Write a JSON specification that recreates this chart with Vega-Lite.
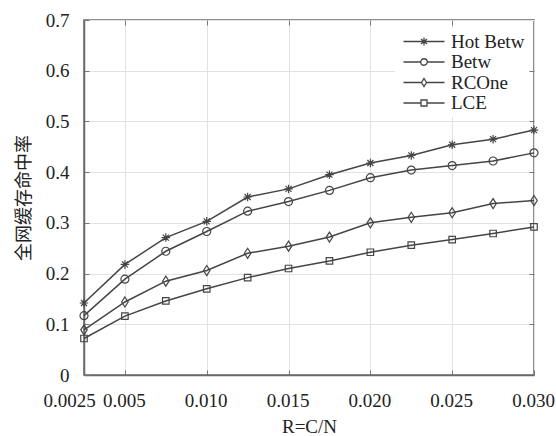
{
  "$schema": "https://vega.github.io/schema/vega-lite/v6.json",
  "autosize": "none",
  "width": 450,
  "height": 355,
  "padding": {"left": 84, "top": 20, "right": 22, "bottom": 61},
  "background": "white",
  "config": {
    "font": "Times New Roman",
    "view": {"stroke": "#6a6a6a", "strokeWidth": 1.5},
    "axis": {
      "labelFont": "Times New Roman",
      "titleFont": "Times New Roman",
      "labelFontSize": 19,
      "labelColor": "#222",
      "titleFontSize": 19,
      "titleFontWeight": "normal",
      "titleColor": "#222",
      "domainColor": "#6a6a6a",
      "domainWidth": 1.5,
      "tickColor": "#777",
      "tickSize": -5,
      "tickWidth": 1,
      "gridColor": "#e2e2e2",
      "gridWidth": 1
    },
    "legend": {
      "labelFont": "Times New Roman",
      "labelFontSize": 19,
      "labelColor": "#222"
    }
  },
  "data": {
    "values": [
      {"r": 0.0025, "s": "Hot Betw", "v": 0.142},
      {"r": 0.005, "s": "Hot Betw", "v": 0.218},
      {"r": 0.0075, "s": "Hot Betw", "v": 0.271},
      {"r": 0.01, "s": "Hot Betw", "v": 0.303},
      {"r": 0.0125, "s": "Hot Betw", "v": 0.351},
      {"r": 0.015, "s": "Hot Betw", "v": 0.367},
      {"r": 0.0175, "s": "Hot Betw", "v": 0.395},
      {"r": 0.02, "s": "Hot Betw", "v": 0.418},
      {"r": 0.0225, "s": "Hot Betw", "v": 0.433},
      {"r": 0.025, "s": "Hot Betw", "v": 0.454},
      {"r": 0.0275, "s": "Hot Betw", "v": 0.465},
      {"r": 0.03, "s": "Hot Betw", "v": 0.483},
      {"r": 0.0025, "s": "Betw", "v": 0.117},
      {"r": 0.005, "s": "Betw", "v": 0.189},
      {"r": 0.0075, "s": "Betw", "v": 0.244},
      {"r": 0.01, "s": "Betw", "v": 0.283},
      {"r": 0.0125, "s": "Betw", "v": 0.323},
      {"r": 0.015, "s": "Betw", "v": 0.342},
      {"r": 0.0175, "s": "Betw", "v": 0.364},
      {"r": 0.02, "s": "Betw", "v": 0.389},
      {"r": 0.0225, "s": "Betw", "v": 0.404},
      {"r": 0.025, "s": "Betw", "v": 0.413},
      {"r": 0.0275, "s": "Betw", "v": 0.422},
      {"r": 0.03, "s": "Betw", "v": 0.438},
      {"r": 0.0025, "s": "RCOne", "v": 0.089},
      {"r": 0.005, "s": "RCOne", "v": 0.144},
      {"r": 0.0075, "s": "RCOne", "v": 0.185},
      {"r": 0.01, "s": "RCOne", "v": 0.206},
      {"r": 0.0125, "s": "RCOne", "v": 0.24},
      {"r": 0.015, "s": "RCOne", "v": 0.254},
      {"r": 0.0175, "s": "RCOne", "v": 0.272},
      {"r": 0.02, "s": "RCOne", "v": 0.3},
      {"r": 0.0225, "s": "RCOne", "v": 0.311},
      {"r": 0.025, "s": "RCOne", "v": 0.32},
      {"r": 0.0275, "s": "RCOne", "v": 0.338},
      {"r": 0.03, "s": "RCOne", "v": 0.344},
      {"r": 0.0025, "s": "LCE", "v": 0.072},
      {"r": 0.005, "s": "LCE", "v": 0.116},
      {"r": 0.0075, "s": "LCE", "v": 0.146},
      {"r": 0.01, "s": "LCE", "v": 0.17},
      {"r": 0.0125, "s": "LCE", "v": 0.192},
      {"r": 0.015, "s": "LCE", "v": 0.21},
      {"r": 0.0175, "s": "LCE", "v": 0.225},
      {"r": 0.02, "s": "LCE", "v": 0.242},
      {"r": 0.0225, "s": "LCE", "v": 0.256},
      {"r": 0.025, "s": "LCE", "v": 0.267},
      {"r": 0.0275, "s": "LCE", "v": 0.279},
      {"r": 0.03, "s": "LCE", "v": 0.292}
    ]
  },
  "resolve": {"axis": {"x": "independent", "y": "independent"}, "scale": {"shape": "independent"}},
  "layer": [
    {
      "mark": {"type": "line", "color": "#454545", "strokeWidth": 1.5},
      "encoding": {
        "x": {
          "field": "r", "type": "quantitative",
          "scale": {"domain": [0.0025, 0.03], "nice": false, "zero": false},
          "axis": {
            "orient": "bottom",
            "title": "R=C/N",
            "labelFont": "Times New Roman",
            "titleFont": "Times New Roman",
            "values": [0.0025, 0.005, 0.01, 0.015, 0.02, 0.025, 0.03],
            "labelExpr": "datum.value < 0.003 ? '0.0025' : format(datum.value, '.3f')",
            "labelPadding": 21,
            "labelFlush": false,
            "labelOverlap": false,
            "labelOffset": {"condition": {"test": "datum.value < 0.003", "value": -15}, "value": -1},
            "titlePadding": 7
          }
        },
        "y": {
          "field": "v", "type": "quantitative",
          "scale": {"domain": [0, 0.7], "nice": false},
          "axis": {
            "orient": "left",
            "title": "全网缓存命中率",
            "labelFont": "Times New Roman",
            "titleFont": "Noto Sans CJK SC",
            "titleFontSize": 18,
            "values": [0, 0.1, 0.2, 0.3, 0.4, 0.5, 0.6, 0.7],
            "labelExpr": "datum.value === 0 ? '0' : format(datum.value, '.1f')",
            "labelPadding": 20,
            "labelFlush": false,
            "labelOverlap": false,
            "titlePadding": 12
          }
        },
        "detail": {"field": "s"}
      }
    },
    {
      "mark": {"type": "point", "filled": false, "color": "#454545", "strokeWidth": 1.2, "opacity": 1, "size": 100},
      "encoding": {
        "x": {
          "field": "r", "type": "quantitative",
          "axis": {"orient": "top", "title": null, "labels": false, "grid": false, "domain": false,
                   "values": [0.005, 0.01, 0.015, 0.02, 0.025]}
        },
        "y": {
          "field": "v", "type": "quantitative",
          "axis": {"orient": "right", "title": null, "labels": false, "grid": false, "domain": false,
                   "values": [0.1, 0.2, 0.3, 0.4, 0.5, 0.6]}
        },
        "shape": {
          "field": "s", "type": "nominal",
          "scale": {
            "domain": ["Hot Betw", "Betw", "RCOne", "LCE"],
            "range": [
              "M0,-0.85V0.85M-0.85,0H0.85M-0.6,-0.6L0.6,0.6M-0.6,0.6L0.6,-0.6",
              "M0.8,0A0.8,0.8 0 1,1 -0.8,0A0.8,0.8 0 1,1 0.8,0",
              "M0,-1L0.65,0L0,1L-0.65,0Z",
              "M-0.65,-0.65H0.65V0.65H-0.65Z"
            ]
          },
          "legend": null
        }
      }
    },
    {
      "transform": [{"filter": "datum.v < 0"}],
      "mark": {"type": "point", "filled": false, "color": "#454545", "strokeWidth": 1.3, "opacity": 1, "size": 100},
      "encoding": {
        "x": {"field": "r", "type": "quantitative", "axis": null},
        "y": {"field": "v", "type": "quantitative", "axis": null},
        "shape": {
          "field": "s", "type": "nominal",
          "scale": {
            "domain": ["Hot Betw", "Betw", "RCOne", "LCE"],
            "range": [
              "M-1,0H7.2M3.1,-0.8V0.8M2.5,-0.5L3.7,0.5M2.5,0.5L3.7,-0.5",
              "M-1,0H2.45M3.75,0H7.2M3.75,0A0.65,0.65 0 1,1 2.45,0A0.65,0.65 0 1,1 3.75,0",
              "M-1,0H2.6M3.6,0H7.2M3.1,-0.8L3.6,0L3.1,0.8L2.6,0Z",
              "M-1,0H2.5M3.7,0H7.2M2.5,-0.6H3.7V0.6H2.5Z"
            ]
          },
          "legend": {
            "title": null,
            "orient": "none",
            "legendX": 311,
            "legendY": 8,
            "fillColor": "white",
            "padding": 4,
            "symbolSize": 100,
            "symbolStrokeWidth": 1.3,
            "labelFont": "Times New Roman",
            "labelOffset": 33,
            "rowPadding": 0.5
          }
        }
      }
    }
  ]
}
